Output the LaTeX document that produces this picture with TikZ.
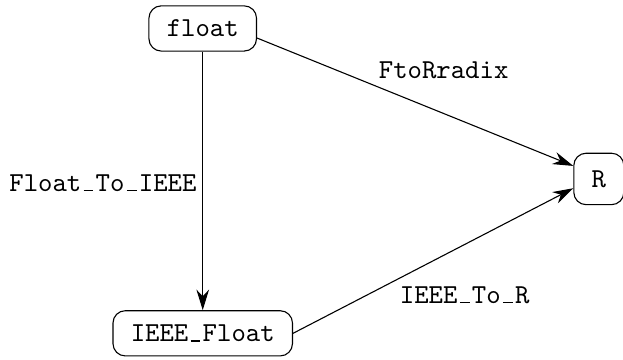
\documentclass[tikz,border=0pt]{standalone}
\usepackage{tikz}
\usetikzlibrary{arrows.meta}
\newcommand{\uscore}{\makebox[0.525em]{\rule{0.36em}{0.45pt}}}

\begin{document}
\begin{tikzpicture}[>={Stealth[length=7.5pt,width=4.6pt]},thin,font=\ttfamily]
  \tikzstyle{type}=[draw,rounded corners=4.5pt,inner xsep=6.5pt,minimum height=0.58cm]
  \tikzstyle{fun}=[inner sep=2pt]
  \useasboundingbox (0,0) rectangle (7.99,4.615);

  \node[type] (float) at (2.60,4.25) {float};
  \node[type] (ieee) at (2.60,0.34) {IEEE\uscore Float};
  \node[type,minimum height=0.66cm] (R) at (7.68,2.32) {R};

  \draw[->] (float) -- (ieee);
  \draw[->] (float.-10) -- (R.153);
  \draw[->] (ieee.east) -- (R.200);

  \node[fun] (ftor) at (5.69,3.72) {FtoRradix};
  \node[fun] (ftoi) at (1.32,2.27) {Float\uscore To\uscore IEEE};
  \node[fun] (itor) at (5.96,0.83) {IEEE\uscore To\uscore R};
\end{tikzpicture}
\end{document}
